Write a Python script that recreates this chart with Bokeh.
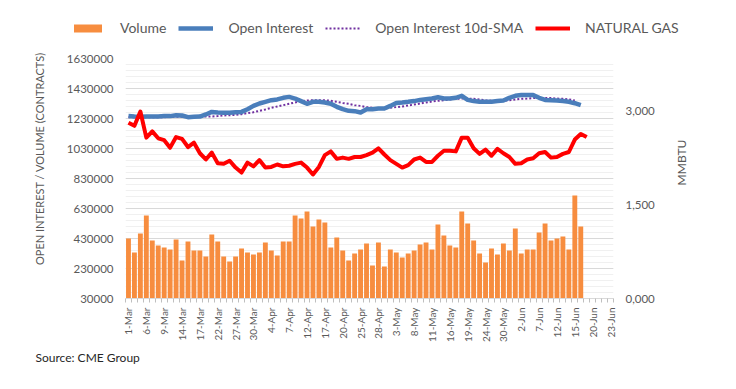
import math
from bokeh.plotting import figure
from bokeh.layouts import column, row
from bokeh.models import (Range1d, LinearAxis, FixedTicker, CustomJSTickFormatter,
                          NumeralTickFormatter, Legend, LegendItem, Label)
from bokeh.embed import file_html
from bokeh.resources import INLINE

# ---------------- data ----------------
tick_labels = ["1-Mar", "6-Mar", "9-Mar", "14-Mar", "17-Mar", "22-Mar", "27-Mar", "30-Mar",
               "4-Apr", "7-Apr", "12-Apr", "17-Apr", "20-Apr", "25-Apr", "28-Apr",
               "3-May", "8-May", "11-May", "16-May", "19-May", "24-May", "30-May",
               "2-Jun", "7-Jun", "12-Jun", "15-Jun", "20-Jun", "23-Jun"]
n_days = 82  # trading days on the category axis

volume = [430000, 337000, 463000, 583000, 417000, 383000, 370000, 357000, 423000, 283000,
          410000, 350000, 350000, 310000, 457000, 410000, 310000, 277000, 310000, 363000,
          337000, 323000, 337000, 403000, 350000, 317000, 410000, 410000, 583000, 563000,
          610000, 510000, 557000, 537000, 370000, 437000, 350000, 283000, 330000, 357000,
          397000, 250000, 403000, 243000, 357000, 337000, 303000, 330000, 350000, 390000,
          403000, 357000, 523000, 450000, 383000, 370000, 610000, 530000, 417000, 330000,
          270000, 363000, 323000, 397000, 350000, 497000, 330000, 357000, 357000, 470000,
          530000, 417000, 430000, 443000, 357000, 717000, 510000]

open_interest = [1246000, 1243000, 1241000, 1243000, 1243000, 1243000, 1246000, 1246000, 1252000, 1250000,
                 1239000, 1241000, 1243000, 1257000, 1274000, 1270000, 1268000, 1268000, 1272000, 1274000,
                 1292000, 1314000, 1330000, 1341000, 1352000, 1357000, 1368000, 1374000, 1363000, 1346000,
                 1328000, 1341000, 1341000, 1337000, 1328000, 1308000, 1292000, 1281000, 1279000, 1270000,
                 1292000, 1292000, 1297000, 1297000, 1314000, 1334000, 1337000, 1341000, 1346000, 1354000,
                 1359000, 1363000, 1372000, 1363000, 1363000, 1368000, 1381000, 1354000, 1346000, 1341000,
                 1341000, 1341000, 1346000, 1350000, 1368000, 1381000, 1386000, 1386000, 1386000, 1368000,
                 1354000, 1352000, 1350000, 1346000, 1341000, 1332000, 1319000]

oi_sma = [1239000, 1239000, 1239000, 1239000, 1239000, 1239000, 1239000, 1241000, 1241000, 1241000,
          1241000, 1241000, 1243000, 1243000, 1243000, 1246000, 1250000, 1252000, 1254000, 1259000,
          1266000, 1272000, 1281000, 1290000, 1301000, 1310000, 1319000, 1328000, 1337000, 1346000,
          1350000, 1352000, 1352000, 1352000, 1348000, 1341000, 1334000, 1328000, 1319000, 1314000,
          1306000, 1301000, 1297000, 1297000, 1301000, 1306000, 1310000, 1317000, 1323000, 1330000,
          1337000, 1343000, 1348000, 1352000, 1357000, 1361000, 1363000, 1363000, 1361000, 1357000,
          1352000, 1348000, 1346000, 1348000, 1352000, 1357000, 1361000, 1363000, 1366000, 1366000,
          1366000, 1366000, 1363000, 1361000, 1357000, 1350000, float("nan")]

natural_gas = [2.82, 2.77, 3.00, 2.58, 2.68, 2.57, 2.54, 2.42, 2.59, 2.56,
               2.43, 2.50, 2.33, 2.23, 2.34, 2.17, 2.16, 2.21, 2.10, 2.02,
               2.18, 2.12, 2.22, 2.10, 2.11, 2.15, 2.12, 2.13, 2.16, 2.18,
               2.10, 1.99, 2.11, 2.30, 2.36, 2.24, 2.26, 2.24, 2.27, 2.27,
               2.30, 2.34, 2.41, 2.31, 2.22, 2.16, 2.10, 2.14, 2.23, 2.26,
               2.19, 2.19, 2.29, 2.37, 2.37, 2.36, 2.58, 2.58, 2.41, 2.32,
               2.39, 2.29, 2.40, 2.33, 2.27, 2.16, 2.17, 2.23, 2.25, 2.33,
               2.35, 2.26, 2.27, 2.32, 2.35, 2.55, 2.64, 2.59]

left_ticks = list(range(30000, 1630001, 200000))
left_minor = list(range(30000, 1630001, 40000))
right_ticks = [0.0, 1.5, 3.0]

# ---------------- style ----------------
FONT = "Lato"
GRAY = "#595959"
ORANGE = "#F78D3F"
BLUE = "#4A7EBB"
PURPLE = "#7030A0"
RED = "#FF0000"
W = 730
H_MAIN = 308
W_LEFT = 55
W_RIGHT = 65

idx_v = list(range(len(volume)))
idx_oi = list(range(len(open_interest)))
idx_sma = list(range(len(oi_sma)))
idx_gas = list(range(len(natural_gas)))


def no_align(fig):
    if "frame_align" in fig.properties():
        fig.frame_align = False


def blank(width, height):
    f = figure(width=width, height=height, output_backend="svg", toolbar_location=None,
               x_range=Range1d(0, 1), y_range=Range1d(0, 1),
               x_axis_location=None, y_axis_location=None, min_border=0)
    no_align(f)
    f.outline_line_color = None
    f.grid.visible = False
    return f


# ---------------- legend row ----------------
lg = blank(W, 40)
# off-range placeholder renderers that only carry the legend styles
l_vol = lg.vbar(x=[-5], top=[-5], bottom=[-6], width=0.5,
                fill_color=ORANGE, line_color=ORANGE, line_width=0)
l_oi = lg.line(x=[-5, -6], y=[-5, -6], line_color=BLUE, line_width=4.5)
l_sma = lg.line(x=[-5, -6], y=[-5, -6], line_color=PURPLE, line_width=2, line_dash="2 2")
l_gas = lg.line(x=[-5, -6], y=[-5, -6], line_color=RED, line_width=4)
legend = Legend(items=[LegendItem(label="Volume", renderers=[l_vol]),
                       LegendItem(label="Open Interest", renderers=[l_oi]),
                       LegendItem(label="Open Interest 10d-SMA", renderers=[l_sma]),
                       LegendItem(label="NATURAL GAS", renderers=[l_gas])],
                orientation="horizontal", location=(70, 4),
                glyph_width=35, glyph_height=10, label_standoff=15, spacing=12,
                padding=0, margin=0, border_line_color=None, background_fill_alpha=0,
                label_text_font=FONT, label_text_font_size="14px", label_text_color=GRAY)
lg.add_layout(legend)

# ---------------- axis title columns ----------------
tl = blank(W_LEFT, H_MAIN)
tl.add_layout(Label(x=39, y=190, x_units="screen", y_units="screen",
                    text="OPEN INTEREST / VOLUME (CONTRACTS)", angle=math.pi / 2,
                    text_align="center", text_baseline="middle", text_font=FONT,
                    text_font_size="11px", text_color=GRAY))
tr = blank(W_RIGHT, H_MAIN)
tr.add_layout(Label(x=16, y=186, x_units="screen", y_units="screen",
                    text="MMBTU", angle=math.pi / 2,
                    text_align="center", text_baseline="middle", text_font=FONT,
                    text_font_size="12px", text_color=GRAY))

# ---------------- main chart ----------------
p = figure(width=W - W_LEFT - W_RIGHT, height=H_MAIN, output_backend="svg", toolbar_location=None,
           x_range=Range1d(-0.5, n_days - 0.5), y_range=Range1d(left_ticks[0], left_ticks[-1]),
           min_border_left=125 - W_LEFT, min_border_right=W - W_RIGHT - 613,
           min_border_top=18, min_border_bottom=50)
no_align(p)
p.outline_line_color = None
p.extra_y_ranges = {"gas": Range1d(0, 3.85)}

p.xgrid.visible = False
yt = FixedTicker(ticks=left_ticks, minor_ticks=left_minor)
p.yaxis.ticker = yt
p.ygrid.ticker = yt
p.ygrid.grid_line_color = "#d9d9d9"
p.ygrid.minor_grid_line_color = "#f0f0f0"

ya = p.yaxis[0]
ya.formatter = NumeralTickFormatter(format="0")
ya.axis_line_color = None
ya.major_tick_out = 0
ya.major_tick_in = 0
ya.minor_tick_out = 0
ya.minor_tick_in = 0
ya.major_label_standoff = 12
ya.major_label_text_font = FONT
ya.major_label_text_font_size = "11.5px"
ya.major_label_text_color = GRAY

xa = p.xaxis[0]
xa.ticker = FixedTicker(ticks=list(range(0, n_days, 3)),
                        minor_ticks=[i - 0.5 for i in range(n_days + 1)])
xa.major_label_overrides = {i * 3: lbl for i, lbl in enumerate(tick_labels)}
xa.major_label_orientation = math.pi / 2
xa.major_tick_out = 0
xa.major_tick_in = 0
xa.minor_tick_out = 4
xa.minor_tick_in = 0
xa.minor_tick_line_color = "#bfbfbf"
xa.axis_line_color = "#d9d9d9"
xa.major_label_standoff = 5
xa.major_label_text_font = FONT
xa.major_label_text_font_size = "10px"
xa.major_label_text_color = GRAY

ra = LinearAxis(y_range_name="gas", ticker=FixedTicker(ticks=right_ticks),
                formatter=CustomJSTickFormatter(code="return tick.toFixed(3).replace('.', ',');"))
ra.axis_line_color = None
ra.major_tick_out = 0
ra.major_tick_in = 0
ra.minor_tick_out = 0
ra.minor_tick_in = 0
ra.major_label_standoff = 12
ra.major_label_text_font = FONT
ra.major_label_text_font_size = "11.5px"
ra.major_label_text_color = GRAY
p.add_layout(ra, "right")

p.vbar(x=idx_v, top=volume, bottom=left_ticks[0], width=0.82,
       fill_color=ORANGE, line_color=ORANGE, line_width=0)
p.line(idx_sma, oi_sma, line_color=PURPLE, line_width=2, line_dash="2 2")
p.line(idx_oi, open_interest, line_color=BLUE, line_width=4.5, line_join="round")
p.line(idx_gas, natural_gas, y_range_name="gas", line_color=RED, line_width=4,
       line_join="round")

# ---------------- source row ----------------
sf = blank(W, 30)
sf.add_layout(Label(x=35, y=21, x_units="screen", y_units="screen",
                    text="Source: CME Group", text_align="left", text_baseline="middle",
                    text_font=FONT, text_font_size="12px", text_color="#262626"))

layout = column(lg, row(tl, p, tr, spacing=0), sf, spacing=0)
open("out.html", "w").write(file_html(layout, INLINE))
